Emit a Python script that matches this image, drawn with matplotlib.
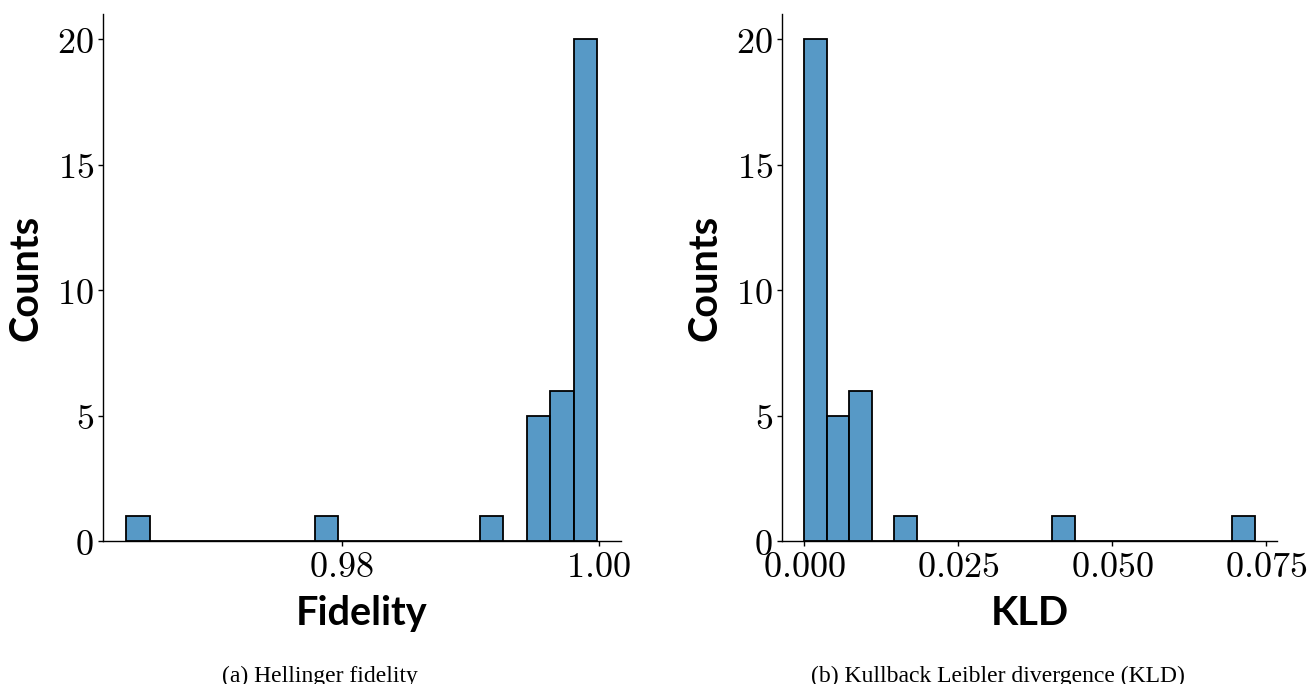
import numpy as np
import matplotlib
matplotlib.use("Agg")
import matplotlib.pyplot as plt
from matplotlib.ticker import FuncFormatter

plt.rcParams['mathtext.fontset'] = 'cm'

# Hellinger fidelity histogram (20 equal bins)
fid_range = (0.96324, 0.99990)
fid_counts = [1, 0, 0, 0, 0, 0, 0, 0, 1, 0, 0, 0, 0, 0, 0, 1, 0, 5, 6, 20]
fid_ticks = [0.98, 1.00]

# Kullback Leibler divergence histogram (20 equal bins)
kld_range = (0.00000, 0.07321)
kld_counts = [20, 5, 6, 0, 1, 0, 0, 0, 0, 0, 0, 1, 0, 0, 0, 0, 0, 0, 0, 1]
kld_ticks = [0.000, 0.025, 0.050, 0.075]

count_ticks = [0, 5, 10, 15, 20]

bar_face = (0.122, 0.467, 0.706, 0.75)
label_font = dict(family='Lato', weight='bold', size=28.5)
tick_size = 26


def draw_hist(ax, value_range, counts, xticks, xfmt, xlabel):
    edges = np.linspace(value_range[0], value_range[1], len(counts) + 1)
    ax.bar(edges[:-1], counts, width=np.diff(edges), align='edge',
           facecolor=bar_face, edgecolor='black', linewidth=1.3)
    ax.spines['top'].set_visible(False)
    ax.spines['right'].set_visible(False)
    for side in ('left', 'bottom'):
        ax.spines[side].set_linewidth(1.0)
    ax.set_xticks(xticks)
    ax.set_yticks(count_ticks)
    ax.xaxis.set_major_formatter(FuncFormatter(lambda v, p: '$' + xfmt.format(v) + '$'))
    ax.yaxis.set_major_formatter(FuncFormatter(lambda v, p: '$%d$' % v))
    ax.tick_params(labelsize=tick_size, length=3.5, width=1.0, pad=3)
    ax.set_ylim(0, 21)
    ax.set_xlabel(xlabel, fontdict=label_font, labelpad=8)
    ax.set_ylabel('Counts', fontdict=label_font, labelpad=9)


fig = plt.figure(figsize=(13.09, 6.84), dpi=100)
ax1 = fig.add_axes([0.0785, 0.2086, 0.3959, 0.7709])
ax2 = fig.add_axes([0.5972, 0.2086, 0.3786, 0.7709])

draw_hist(ax1, fid_range, fid_counts, fid_ticks, '{:.2f}', 'Fidelity')
draw_hist(ax2, kld_range, kld_counts, kld_ticks, '{:.3f}', 'KLD')

fig.text(320 / 1309, 1 - 676 / 684, '(a) Hellinger fidelity',
         family='Liberation Serif', size=17, ha='center', va='center')
fig.text(998 / 1309, 1 - 676 / 684, '(b) Kullback Leibler divergence (KLD)',
         family='Liberation Serif', size=17, ha='center', va='center')

fig.savefig('out.png', dpi=100)
